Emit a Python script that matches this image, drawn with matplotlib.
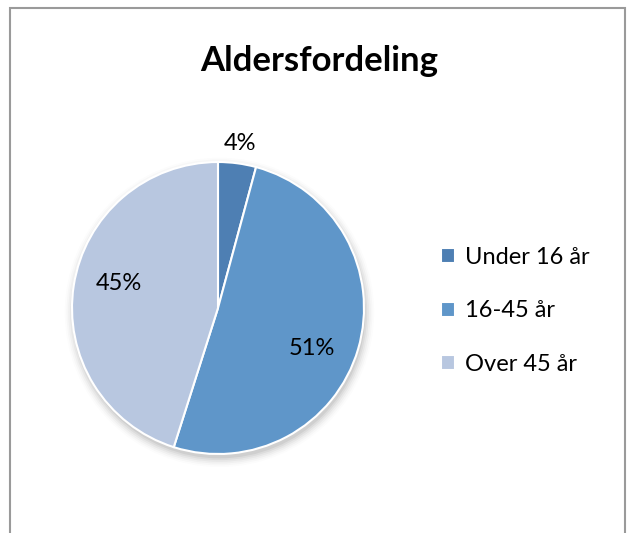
import numpy as np
import matplotlib
matplotlib.use("Agg")
import matplotlib.pyplot as plt
from matplotlib.patches import Circle, Rectangle

plt.rcParams['font.family'] = ['Lato', 'DejaVu Sans']

labels = ["Under 16 år", "16-45 år", "Over 45 år"]
values = [4.2, 50.7, 45.1]
colors = ["#4E7FB3", "#5F96C9", "#B8C7E0"]
# label placement: radial distance and clockwise nudge (deg)
label_dist = [1.14, 0.70, 0.70]
label_shift = [0, 7, 5]

W, H = 628, 533
fig = plt.figure(figsize=(W / 100, H / 100), dpi=100)

# chart border
fig.patches.append(Rectangle((10 / W, -0.01), 615 / W, 1 - 8 / H + 0.01,
                             transform=fig.transFigure, fill=False,
                             edgecolor="#9A9A9A", linewidth=1.5))

fig.text(319 / W, 1 - 61 / H, "Aldersfordeling", ha="center", va="center",
         fontsize=25, fontweight="bold")

cx, cy, r = 218, H - 308, 146
half = 170
ax = fig.add_axes([(cx - half) / W, (cy - half) / H, 2 * half / W, 2 * half / H])

# soft shadow
for i, a in enumerate(np.linspace(0.05, 0.01, 6)):
    ax.add_patch(Circle((0.01, -0.03), 1 + 0.012 * i, color="black",
                        alpha=a, lw=0, zorder=0))

wedges, _ = ax.pie(values, colors=colors, startangle=90, counterclock=False,
                   radius=1, wedgeprops=dict(edgecolor="white", linewidth=1.5))
for w in wedges:
    w.set_zorder(2)

lim = half / r
ax.set_xlim(-lim, lim)
ax.set_ylim(-lim, lim)
ax.set_aspect("equal")
ax.axis("off")

total = sum(values)
for w, v, d, s in zip(wedges, values, label_dist, label_shift):
    ang = np.deg2rad((w.theta1 + w.theta2) / 2 - s)
    ax.text(d * np.cos(ang), d * np.sin(ang), f"{v / total * 100:.0f}%",
            ha="center", va="center", fontsize=17, zorder=3)

fig.legend(wedges, labels, loc="center left",
           bbox_to_anchor=(420 / W, 1 - 311 / H), frameon=False,
           fontsize=17, handlelength=0.6, handleheight=0.6,
           handletextpad=0.4, labelspacing=1.38)

fig.savefig("out.png", dpi=100)
